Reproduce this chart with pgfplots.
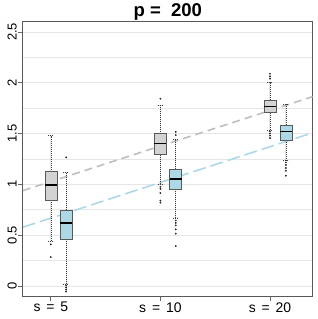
\documentclass[border=0pt]{standalone}
\usepackage{pgfplots}
\pgfplotsset{compat=1.18}
\usepgfplotslibrary{statistics}
\usepackage{fontspec}
\setmainfont{Liberation Sans}
\definecolor{boxgray}{HTML}{D3D3D3}
\definecolor{boxblue}{HTML}{ADD8E6}
\definecolor{linegray}{HTML}{BEBEBE}
\definecolor{gridc}{HTML}{E6E6E6}
\newcommand{\wsp}{\hspace{0.42em}}
\begin{document}
\begin{tikzpicture}
\path (0pt,0pt) rectangle (319pt,319pt);
\begin{axis}[at={(23pt,23pt)}, anchor=south west, scale only axis,
 width=291pt, height=276pt,
 xmin=0.745, xmax=3.39, ymin=-0.10, ymax=2.605,
 xtick={1,2,3}, xticklabels={s\wsp=\wsp5, s\wsp=\wsp10, s\wsp=\wsp20},
 ytick={0,0.5,1,1.5,2,2.5}, yticklabels={0,0.5,1,1.5,2,2.5},
 minor ytick={0.25,0.75,1.25,1.75,2.25},
 ymajorgrids, yminorgrids,
 major grid style={gridc, line width=0.6pt},
 minor grid style={gridc, line width=0.6pt},
 tick align=outside, major tick length=5pt, minor tick length=0pt,
 xtick pos=bottom, ytick pos=left,
 tick style={black!60, line width=0.7pt},
 axis line style={black!65, line width=1pt},
 yticklabel style={font=\fontsize{13}{13}\selectfont, rotate=90, anchor=south, inner sep=1pt},
 xticklabel style={font=\fontsize{14}{14}\selectfont, anchor=north, inner sep=1pt},
 boxplot/draw direction=y,
 boxplot/box extend=0.11,
 boxplot/whisker extend=0.05,
 boxplot/every whisker/.style={black!75, line width=0.6pt, dash pattern=on 1pt off 1pt},
 boxplot/every median/.style={black, line width=1.4pt},
 boxplot/every box/.style={draw=black!65, line width=0.6pt},
]
% dashed trend lines (behind boxes)
\addplot[linegray, line width=1.6pt, dash pattern=on 8pt off 5pt] coordinates {(0.745,0.938) (3.39,1.863)};
\addplot[boxblue, line width=1.6pt, dash pattern=on 13pt off 5pt] coordinates {(0.745,0.578) (3.39,1.507)};

% s = 5
\addplot[boxplot prepared={draw position=1, lower whisker=0.435, lower quartile=0.843, median=0.994, upper quartile=1.124, upper whisker=1.48}, fill=boxgray, draw=black!65, mark=*, mark size=0.7pt, mark options={black!85}]
 table[row sep=\\, y index=0] {y\\ 0.409\\ 0.284\\};
\addplot[boxplot prepared={draw position=1.14, lower whisker=0.02, lower quartile=0.458, median=0.618, upper quartile=0.749, upper whisker=1.118}, fill=boxblue, draw=black!65, mark=*, mark size=0.7pt, mark options={black!85}]
 table[row sep=\\, y index=0] {y\\ 1.265\\ 0.005\\ -0.015\\ -0.035\\ -0.055\\};

% s = 10
\addplot[boxplot prepared={draw position=2, lower whisker=0.997, lower quartile=1.291, median=1.399, upper quartile=1.5, upper whisker=1.778}, fill=boxgray, draw=black!65, mark=*, mark size=0.7pt, mark options={black!85}]
 table[row sep=\\, y index=0] {y\\ 1.843\\ 0.975\\ 0.955\\ 0.915\\ 0.84\\ 0.82\\};
\addplot[boxplot prepared={draw position=2.14, lower whisker=0.67, lower quartile=0.951, median=1.053, upper quartile=1.147, upper whisker=1.445}, fill=boxblue, draw=black!65, mark=*, mark size=0.7pt, mark options={black!85}]
 table[row sep=\\, y index=0] {y\\ 1.517\\ 1.484\\ 0.644\\ 0.62\\ 0.595\\ 0.556\\ 0.514\\ 0.392\\};

% s = 20
\addplot[boxplot prepared={draw position=3, lower whisker=1.533, lower quartile=1.706, median=1.768, upper quartile=1.827, upper whisker=2.004}, fill=boxgray, draw=black!65, mark=*, mark size=0.7pt, mark options={black!85}]
 table[row sep=\\, y index=0] {y\\ 2.088\\ 2.063\\ 2.04\\ 1.52\\ 1.50\\ 1.48\\ 1.455\\};
\addplot[boxplot prepared={draw position=3.145, lower whisker=1.232, lower quartile=1.435, median=1.52, upper quartile=1.582, upper whisker=1.788}, fill=boxblue, draw=black!65, mark=*, mark size=0.7pt, mark options={black!85}]
 table[row sep=\\, y index=0] {y\\ 1.216\\ 1.19\\ 1.16\\ 1.134\\ 1.085\\};
\end{axis}
\node[font=\fontsize{18.6}{18.6}\selectfont\bfseries, anchor=base] at (168.5pt,304pt) {p =\ \ 200};
\end{tikzpicture}
\end{document}
